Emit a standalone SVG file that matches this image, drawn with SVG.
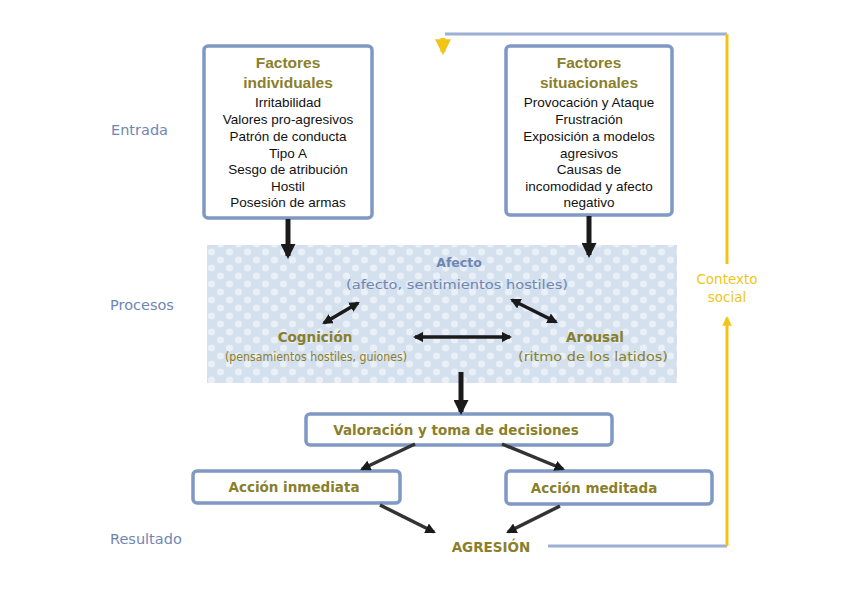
<svg xmlns="http://www.w3.org/2000/svg" width="842" height="595" viewBox="0 0 842 595">
<style>
.box{fill:#ffffff;stroke:#7f98c4;stroke-width:3.5}
.t{font-family:"Liberation Sans",Arial,sans-serif;font-size:13.5px;fill:#111;text-anchor:middle}
.ti{font-family:"Liberation Sans",Arial,sans-serif;font-size:15.5px;font-weight:bold;fill:#8a7f2c;text-anchor:middle}
.ol{font-family:"DejaVu Sans",Verdana,sans-serif;font-size:13.5px;font-weight:bold;fill:#8a7f2c;text-anchor:middle}
.olp{font-family:"DejaVu Sans",Verdana,sans-serif;font-size:12.5px;fill:#8a7f2c;text-anchor:middle}
.bl{font-family:"DejaVu Sans",Verdana,sans-serif;font-size:14.5px;fill:#6f86b5}
.blc{font-family:"DejaVu Sans",Verdana,sans-serif;font-size:12.5px;fill:#6f86b5;text-anchor:middle}
.yl{font-family:"DejaVu Sans",Verdana,sans-serif;font-size:13.5px;fill:#f2c418;text-anchor:middle}
.a{stroke:#1a1a1a;fill:none}
</style>
<defs>
<pattern id="dots" width="18" height="16" patternUnits="userSpaceOnUse">
<rect width="18" height="16" fill="#d4e0ed"/>
<circle cx="4.5" cy="4" r="3.6" fill="#e9f0f7"/>
<circle cx="13.5" cy="12" r="3.6" fill="#e9f0f7"/>
</pattern>
<marker id="ah" viewBox="0 0 10 10" refX="8" refY="5" markerWidth="3" markerHeight="3" orient="auto-start-reverse">
<path d="M0,0 L10,5 L0,10 z" fill="#1a1a1a"/>
</marker>
<marker id="ahy" viewBox="0 0 10 10" refX="8" refY="5" markerWidth="3.2" markerHeight="3.2" orient="auto-start-reverse">
<path d="M0,0 L10,5 L0,10 z" fill="#f2c418"/>
</marker>
</defs>
<rect width="842" height="595" fill="#ffffff"/>

<g id="labels">
<text class="bl" x="111" y="135">Entrada</text>
<text class="bl" x="110" y="310">Procesos</text>
<text class="bl" x="110" y="544">Resultado</text>
</g>

<g id="procesos">
<rect x="207" y="245" width="470" height="138" fill="url(#dots)"/>
<text class="blc" x="459" y="267" font-weight="bold" font-size="13.5">Afecto</text>
<text class="blc" x="457" y="289" textLength="222" lengthAdjust="spacingAndGlyphs">(afecto, sentimientos hostiles)</text>
<text class="ol" x="315" y="342">Cognición</text>
<text class="olp" x="316" y="361" textLength="182" lengthAdjust="spacingAndGlyphs">(pensamientos hostiles, guiones)</text>
<text class="ol" x="595" y="342">Arousal</text>
<text class="olp" x="593" y="361" textLength="150" lengthAdjust="spacingAndGlyphs">(ritmo de los latidos)</text>
</g>

<g id="factores-individuales">
<rect class="box" x="204" y="46" width="168" height="172" rx="4"/>
<text class="ti" x="288" y="68">Factores</text>
<text class="ti" x="288" y="88">individuales</text>
<text class="t" x="288" y="107">Irritabilidad</text>
<text class="t" x="288" y="124">Valores pro-agresivos</text>
<text class="t" x="288" y="141">Patrón de conducta</text>
<text class="t" x="288" y="158">Tipo A</text>
<text class="t" x="288" y="174">Sesgo de atribución</text>
<text class="t" x="288" y="191">Hostil</text>
<text class="t" x="288" y="207">Posesión de armas</text>
</g>

<g id="factores-situacionales">
<rect class="box" x="506" y="46" width="166" height="169" rx="4"/>
<text class="ti" x="589" y="68">Factores</text>
<text class="ti" x="589" y="88">situacionales</text>
<text class="t" x="589" y="107">Provocación y Ataque</text>
<text class="t" x="589" y="124">Frustración</text>
<text class="t" x="589" y="141">Exposición a modelos</text>
<text class="t" x="589" y="158">agresivos</text>
<text class="t" x="589" y="174">Causas de</text>
<text class="t" x="589" y="191">incomodidad y afecto</text>
<text class="t" x="589" y="207">negativo</text>
</g>

<g id="valoracion">
<rect class="box" x="306" y="414" width="306" height="31" rx="4"/>
<text class="ol" x="456" y="435" font-size="14">Valoración y toma de decisiones</text>
</g>

<g id="accion-inmediata">
<rect class="box" x="193" y="471" width="207" height="32" rx="4"/>
<text class="ol" x="294" y="492">Acción inmediata</text>
</g>

<g id="accion-meditada">
<rect class="box" x="506" y="471" width="206" height="33" rx="4"/>
<text class="ol" x="594" y="493">Acción meditada</text>
</g>

<g id="agresion">
<text class="ol" x="491" y="552" font-size="15">AGRESIÓN</text>
</g>

<g id="contexto">
<text class="yl" x="727" y="284">Contexto</text>
<text class="yl" x="727" y="302">social</text>
</g>

<g id="connectors">
<line class="a" x1="288" y1="219" x2="288" y2="256" stroke-width="5" marker-end="url(#ah)"/>
<line class="a" x1="589" y1="216" x2="589" y2="255" stroke-width="5" marker-end="url(#ah)"/>
<line class="a" x1="324" y1="323" x2="358" y2="303" stroke-width="3.5" marker-start="url(#ah)" marker-end="url(#ah)"/>
<line class="a" x1="512" y1="300" x2="556" y2="322" stroke-width="3.5" marker-start="url(#ah)" marker-end="url(#ah)"/>
<line class="a" x1="415" y1="337" x2="510" y2="337" stroke-width="3.5" marker-start="url(#ah)" marker-end="url(#ah)"/>
<line class="a" x1="461" y1="372" x2="461" y2="412" stroke-width="5" marker-end="url(#ah)"/>
<line x1="415" y1="444" x2="362" y2="469" stroke="#333" stroke-width="3.5" marker-end="url(#ah)"/>
<line x1="502" y1="444" x2="563" y2="469" stroke="#333" stroke-width="3.5" marker-end="url(#ah)"/>
<line x1="380" y1="505" x2="434" y2="532" stroke="#333" stroke-width="3.5" marker-end="url(#ah)"/>
<line x1="560" y1="506" x2="508" y2="532" stroke="#333" stroke-width="3.5" marker-end="url(#ah)"/>
<polyline points="548,546 727,546" fill="none" stroke="#9bb0d3" stroke-width="3"/>
<polyline points="445,34 727,34" fill="none" stroke="#9bb0d3" stroke-width="3"/>
<line x1="443" y1="38" x2="443" y2="52" stroke="#f2c418" stroke-width="5" marker-end="url(#ahy)"/>
<line x1="727" y1="34" x2="727" y2="264" stroke="#f2c418" stroke-width="3"/>
<line x1="727" y1="546" x2="727" y2="318" stroke="#f2c418" stroke-width="3" marker-end="url(#ahy)"/>
</g>
</svg>
